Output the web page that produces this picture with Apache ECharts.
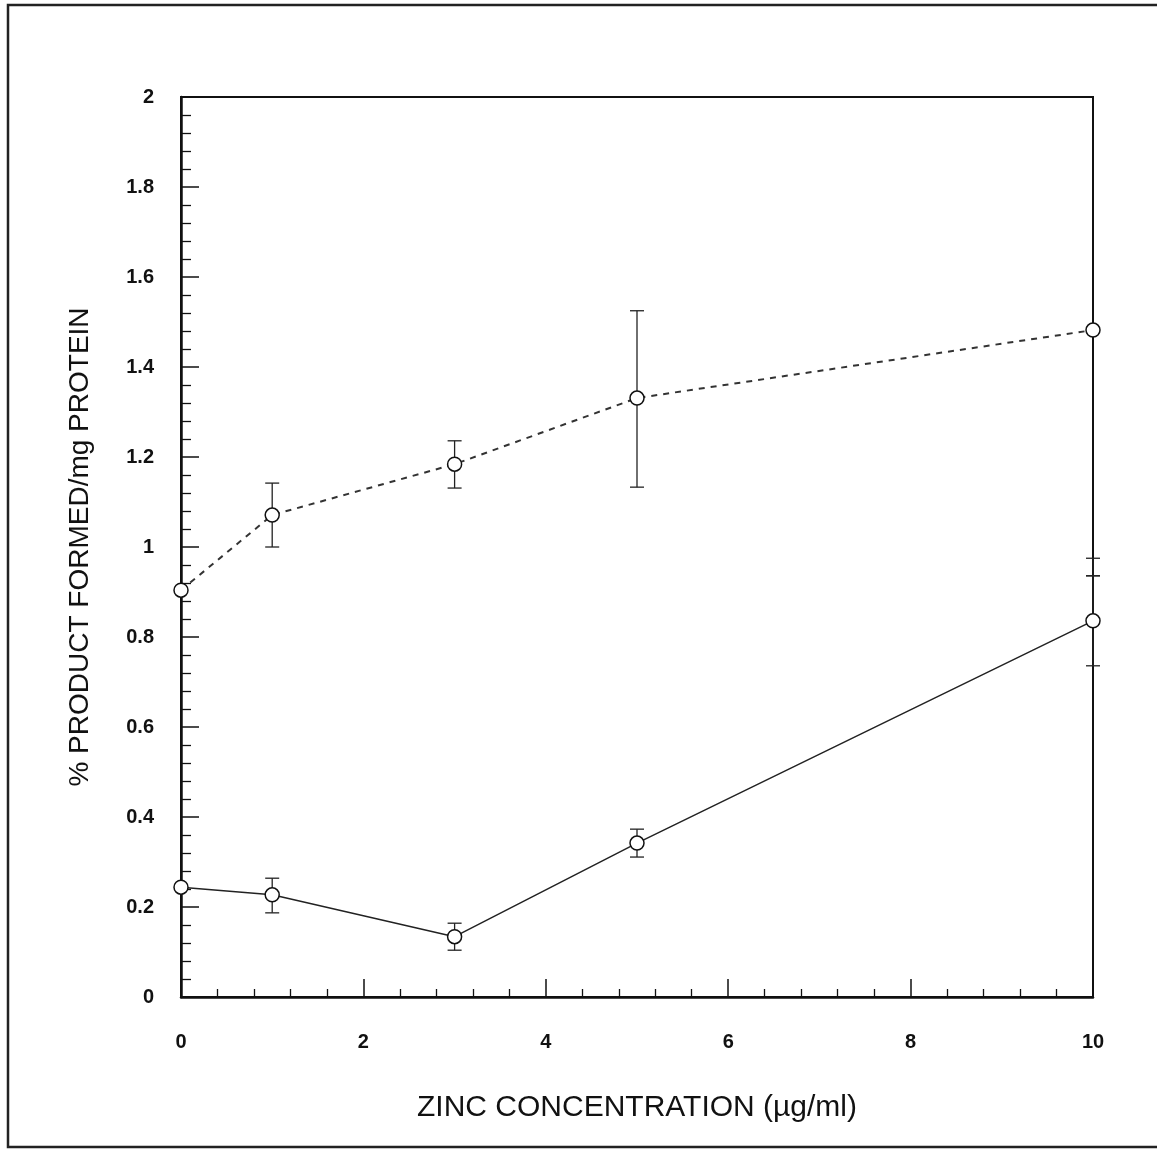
<!DOCTYPE html>
<html>
<head>
<meta charset="utf-8">
<script src="https://cdn.jsdelivr.net/npm/echarts@6/dist/echarts.min.js"></script>
<style>
  html, body { margin: 0; padding: 0; background: #fff; }
  #chart { width: 1157px; height: 1150px; }
</style>
</head>
<body>
<div id="chart"></div>
<script>
// zinc concentration (ug/ml)
const zinc = [0, 1, 3, 5, 10];

// upper curve (dashed)
const upperMean = [0.904, 1.071, 1.184, 1.331, 1.482];
const upperErrLow = [null, 1.0, 1.131, 1.133, null];
const upperErrHigh = [null, 1.142, 1.236, 1.525, null];

// lower curve (solid)
const lowerMean = [0.244, 0.227, 0.134, 0.342, 0.836];
const lowerErrLow = [null, 0.187, 0.104, 0.311, 0.736];
const lowerErrHigh = [null, 0.264, 0.164, 0.373, 0.936];

// extra cap seen on the right axis near x=10
const extraBar = [[10, 0.936, 0.975]];

const xTicks = [0, 2, 4, 6, 8, 10];
const yTicks = [0, 0.2, 0.4, 0.6, 0.8, 1, 1.2, 1.4, 1.6, 1.8, 2];

function pairs(xs, ys) {
    return xs.map((x, i) => [x, ys[i]]);
}

function errRows(xs, lo, hi) {
    let rows = [];
    xs.forEach((x, i) => {
        if (lo[i] != null) rows.push([x, lo[i], hi[i]]);
    });
    return rows;
}

function renderErr(params, api) {
    const x = api.value(0);
    const lo = api.coord([x, api.value(1)]);
    const hi = api.coord([x, api.value(2)]);
    const w = 7;
    const style = { stroke: '#222', lineWidth: 1.3 };
    return {
        type: 'group',
        children: [
            { type: 'line', shape: { x1: lo[0], y1: lo[1], x2: hi[0], y2: hi[1] }, style: style },
            { type: 'line', shape: { x1: lo[0] - w, y1: lo[1], x2: lo[0] + w, y2: lo[1] }, style: style },
            { type: 'line', shape: { x1: hi[0] - w, y1: hi[1], x2: hi[0] + w, y2: hi[1] }, style: style }
        ]
    };
}

const chart = echarts.init(document.getElementById('chart'));
const fontFam = '"Liberation Sans", Arial, sans-serif';

const option = {
    backgroundColor: '#fff',
    animation: false,
    graphic: [
        {
            type: 'rect',
            shape: { x: 8, y: 5, width: 1160, height: 1142 },
            style: { fill: 'none', stroke: '#222', lineWidth: 2.5 }
        }
    ],
    grid: {
        left: 181, right: 64, top: 97, bottom: 153,
        show: true, borderColor: '#111', borderWidth: 2
    },
    xAxis: {
        type: 'value',
        min: 0, max: 10, interval: 2,
        name: 'ZINC CONCENTRATION (\u00b5g/ml)',
        nameLocation: 'middle',
        nameGap: 96,
        nameTextStyle: { fontFamily: fontFam, fontSize: 30, color: '#111' },
        axisLine: { lineStyle: { color: '#111', width: 2.5 } },
        axisTick: { inside: true, length: 18, lineStyle: { color: '#111', width: 1.5 } },
        minorTick: { show: true, splitNumber: 5, length: 8, lineStyle: { color: '#111', width: 1.3 } },
        axisLabel: { margin: 35, fontFamily: fontFam, fontSize: 20, fontWeight: 'bold', color: '#111' },
        splitLine: { show: false }
    },
    yAxis: {
        type: 'value',
        min: 0, max: 2, interval: 0.2,
        name: '% PRODUCT FORMED/mg PROTEIN',
        nameLocation: 'middle',
        nameGap: 87,
        nameTextStyle: { fontFamily: fontFam, fontSize: 28, color: '#111' },
        axisLine: { lineStyle: { color: '#111', width: 2.5 } },
        axisTick: { inside: true, length: 18, lineStyle: { color: '#111', width: 1.5 } },
        minorTick: { show: true, splitNumber: 5, length: 10, lineStyle: { color: '#111', width: 1.3 } },
        axisLabel: {
            margin: 27, fontFamily: fontFam, fontSize: 20, fontWeight: 'bold', color: '#111',
            formatter: v => String(+v.toFixed(1))
        },
        splitLine: { show: false }
    },
    series: [
        {
            type: 'custom',
            renderItem: renderErr,
            data: errRows(zinc, upperErrLow, upperErrHigh).concat(errRows(zinc, lowerErrLow, lowerErrHigh)).concat(extraBar),
            encode: { x: 0, y: [1, 2] },
            z: 1
        },
        {
            name: 'upper',
            type: 'line',
            data: pairs(zinc, upperMean),
            symbol: 'circle',
            symbolSize: 14,
            lineStyle: { color: '#333', width: 2, type: [6, 6] },
            itemStyle: { color: '#fff', borderColor: '#111', borderWidth: 1.5 },
            z: 3
        },
        {
            name: 'lower',
            type: 'line',
            data: pairs(zinc, lowerMean),
            symbol: 'circle',
            symbolSize: 14,
            lineStyle: { color: '#222', width: 1.5 },
            itemStyle: { color: '#fff', borderColor: '#111', borderWidth: 1.5 },
            z: 3
        }
    ]
};

chart.setOption(option);
</script>
</body>
</html>
